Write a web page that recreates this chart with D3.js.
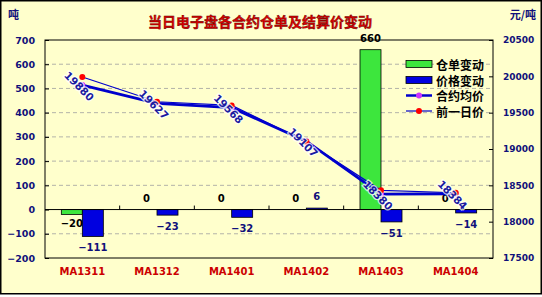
<!DOCTYPE html>
<html><head><meta charset="utf-8">
<script src="https://cdn.jsdelivr.net/npm/d3@7"></script>
<style>html,body{margin:0;padding:0;background:#fff;}svg{display:block;}</style>
</head><body>
<script>
const categories = ["MA1311","MA1312","MA1401","MA1402","MA1403","MA1404"];
const warrantChange = [-20, 0, 0, 0, 660, 0];
const priceChange = [-111, -23, -32, 6, -51, -14];
const settlePrice = [19880, 19627, 19568, 19107, 18380, 18384];
const prevPrice = [19991, 19650, 19600, 19101, 18431, 18398];
const leftTicks = [-200,-100,0,100,200,300,400,500,600,700];
const rightTicks = [17500,18000,18500,19000,19500,20000,20500];
const legendLabels = ["仓单变动","价格变动","合约均价","前一日价"];
const titleText = "当日电子盘各合约仓单及结算价变动";

const W = 542, H = 297;
const plot = {l:45, r:493, t:40, b:258};
const NUM = "DejaVu Sans, Verdana, sans-serif";
const CJK = "Noto Sans CJK SC, sans-serif";
const navy = "#10107a";

const svg = d3.select("body").append("svg").attr("width", W).attr("height", H);
svg.append("rect").attr("x",0.75).attr("y",0.75).attr("width",W-1.5).attr("height",293)
  .attr("fill","#FFFFCC").attr("stroke","#000").attr("stroke-width",1.5);

const x = d3.scaleBand().domain(categories).range([plot.l, plot.r]);
const yL = d3.scaleLinear().domain([-200,700]).range([plot.b, plot.t]);
const yR = d3.scaleLinear().domain([17500,20500]).range([plot.b, plot.t]);
const cx = c => x(c) + x.bandwidth()/2;
const bw = 21;

// gridlines
svg.append("g").selectAll("line").data(leftTicks.filter(v => v!==0 && v!==700 && v!==-200)).join("line")
  .attr("x1",plot.l).attr("x2",plot.r).attr("y1",d=>yL(d)).attr("y2",d=>yL(d))
  .attr("stroke","#a0a0a0").attr("stroke-dasharray","4,3").attr("stroke-width",0.8);

// plot border
svg.append("rect").attr("x",plot.l).attr("y",plot.t).attr("width",plot.r-plot.l).attr("height",plot.b-plot.t)
  .attr("fill","none").attr("stroke","#000").attr("stroke-width",1);

// left axis
const gL = svg.append("g").attr("transform",`translate(${plot.l},0)`)
  .call(d3.axisLeft(yL).tickValues(leftTicks).tickSize(-4).tickPadding(10).tickFormat(d => d<0 ? "\u2212"+Math.abs(d) : d));
gL.select(".domain").remove();
gL.selectAll("line").attr("stroke","#000");
gL.selectAll("text").attr("font-family",NUM).attr("font-size",9.5).attr("font-weight","bold").attr("fill",navy);

// right axis
const gR = svg.append("g").attr("transform",`translate(${plot.r},0)`)
  .call(d3.axisRight(yR).tickValues(rightTicks).tickSize(-4).tickPadding(10).tickFormat(d3.format("d")));
gR.select(".domain").remove();
gR.selectAll("line").attr("stroke","#000");
gR.selectAll("text").attr("font-family",NUM).attr("font-size",9).attr("font-weight","bold").attr("fill",navy);

// bars
const bars = svg.append("g");
bars.selectAll("rect.g").data(categories).join("rect")
  .attr("x",c=>cx(c)-bw).attr("width",bw)
  .attr("y",(c,i)=>yL(Math.max(0,warrantChange[i])))
  .attr("height",(c,i)=>Math.abs(yL(warrantChange[i])-yL(0)))
  .attr("fill","#3de63d").attr("stroke","#000").attr("stroke-width",0.8);
bars.selectAll("rect.b").data(categories).join("rect")
  .attr("x",c=>cx(c)).attr("width",bw)
  .attr("y",(c,i)=>yL(Math.max(0,priceChange[i])))
  .attr("height",(c,i)=>Math.abs(yL(priceChange[i])-yL(0)))
  .attr("fill","#0000e0").attr("stroke","#000").attr("stroke-width",0.8);

// zero axis line with category ticks
svg.append("line").attr("x1",plot.l).attr("x2",plot.r).attr("y1",yL(0)).attr("y2",yL(0)).attr("stroke","#000").attr("stroke-width",1);
svg.append("g").selectAll("line").data(categories.slice(1)).join("line")
  .attr("x1",c=>x(c)).attr("x2",c=>x(c)).attr("y1",yL(0)).attr("y2",yL(0)-4).attr("stroke","#000");

// bar labels
const fmt = v => v<0 ? "\u2212"+Math.abs(v) : String(v);
svg.append("g").selectAll("text").data(categories).join("text")
  .attr("x",c=>cx(c)-bw/2)
  .attr("y",(c,i)=>warrantChange[i]<0 ? yL(warrantChange[i])+13 : yL(warrantChange[i])-8)
  .attr("text-anchor","middle").attr("font-family",NUM).attr("font-size",10).attr("font-weight","bold").attr("fill","#000")
  .text((c,i)=>fmt(warrantChange[i]));
svg.append("g").selectAll("text").data(categories).join("text")
  .attr("x",c=>cx(c)+bw/2)
  .attr("y",(c,i)=>priceChange[i]<0 ? yL(priceChange[i])+15 : yL(priceChange[i])-8)
  .attr("text-anchor","middle").attr("font-family",NUM).attr("font-size",10).attr("font-weight","bold").attr("fill",navy)
  .text((c,i)=>fmt(priceChange[i]));

// lines
const line = d3.line().x(d=>cx(d.c)).y(d=>yR(d.v));
const prevData = categories.map((c,i)=>({c, v:prevPrice[i]}));
const settleData = categories.map((c,i)=>({c, v:settlePrice[i]}));
svg.append("path").datum(prevData).attr("d",line).attr("fill","none").attr("stroke","#0000cc").attr("stroke-width",1.2);
svg.append("path").datum(settleData).attr("d",line).attr("fill","none").attr("stroke","#0000cc").attr("stroke-width",2.8);
svg.append("g").selectAll("circle").data(settleData).join("circle")
  .attr("cx",d=>cx(d.c)).attr("cy",d=>yR(d.v)).attr("r",3).attr("fill","#cc33ff");
svg.append("g").selectAll("circle").data(prevData).join("circle")
  .attr("cx",d=>cx(d.c)).attr("cy",d=>yR(d.v)).attr("r",3).attr("fill","#ff0000");

// rotated price labels
svg.append("g").selectAll("text").data(settleData).join("text")
  .attr("transform",d=>`translate(${cx(d.c)-3},${yR(d.v)+1}) rotate(45)`)
  .attr("text-anchor","middle").attr("dominant-baseline","central")
  .attr("font-family",NUM).attr("font-size",10.5).attr("font-weight","bold")
  .attr("fill","#1a1aa0").attr("stroke","rgba(255,255,255,0.75)").attr("stroke-width",2.5).attr("paint-order","stroke")
  .text(d=>d.v);

// category labels
svg.append("g").selectAll("text").data(categories).join("text")
  .attr("x",c=>cx(c)).attr("y",275).attr("text-anchor","middle")
  .attr("font-family",NUM).attr("font-size",10).attr("font-weight","bold").attr("fill","#cc0000")
  .text(c=>c);

// title and units
svg.append("text").attr("x",260).attr("y",27).attr("text-anchor","middle")
  .attr("font-family",CJK).attr("font-size",14).attr("font-weight","bold").attr("fill","#dd0000")
  .attr("stroke","#600000").attr("stroke-width",0.4).text(titleText);
svg.append("text").attr("x",8).attr("y",19).attr("font-family",CJK).attr("font-size",11).attr("font-weight","bold").attr("fill",navy).text("吨");
svg.append("text").attr("x",536).attr("y",19).attr("text-anchor","end").attr("font-family",CJK).attr("font-size",11).attr("font-weight","bold").attr("fill",navy).text("元/吨");

// legend
const lg = svg.append("g");
const ly = [64, 80, 95.5, 111];
lg.append("rect").attr("x",406).attr("y",ly[0]-3.5).attr("width",26).attr("height",7).attr("fill","#3de63d").attr("stroke","#000").attr("stroke-width",0.8);
lg.append("rect").attr("x",406).attr("y",ly[1]-3.5).attr("width",26).attr("height",7).attr("fill","#0000e0").attr("stroke","#000").attr("stroke-width",0.8);
lg.append("line").attr("x1",406).attr("x2",432).attr("y1",ly[2]).attr("y2",ly[2]).attr("stroke","#0000cc").attr("stroke-width",2.5);
lg.append("circle").attr("cx",419).attr("cy",ly[2]).attr("r",3).attr("fill","#cc33ff");
lg.append("line").attr("x1",406).attr("x2",432).attr("y1",ly[3]).attr("y2",ly[3]).attr("stroke","#0000cc").attr("stroke-width",1.2);
lg.append("circle").attr("cx",419).attr("cy",ly[3]).attr("r",3).attr("fill","#ff0000");
lg.selectAll("text").data(legendLabels).join("text")
  .attr("x",436).attr("y",(d,i)=>ly[i]).attr("dominant-baseline","central")
  .attr("font-family",CJK).attr("font-size",12).attr("font-weight","bold").attr("fill","#000")
  .text(d=>d);
</script>
</body></html>
